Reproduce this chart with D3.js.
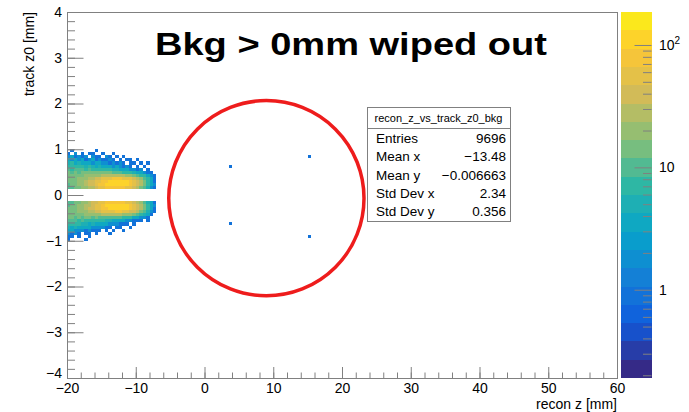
<!DOCTYPE html>
<html>
<head>
<meta charset="utf-8">
<script src="https://cdn.jsdelivr.net/npm/d3@7"></script>
<style>
  body { margin: 0; background: #fff; }
  svg { display: block; font-family: "Liberation Sans", Arial, sans-serif; }
</style>
</head>
<body>
<div id="chart"></div>
<script>
// ---- histogram binning (TH2 recon_z_vs_track_z0_bkg)
var xStart = -20, xBin = 0.5, yBin = 1 / 15;
var upperTopBin = 14;   // y-bin index of the first row of upperRows (rows go downward)
var lowerTopBin = -3;   // y-bin index of the first row of lowerRows

// counts per bin, columns start at x = -20 in 0.5 mm steps
var upperRows = [
  [0,1,0,0,0,0,0,0,1,0,0,0,0,0,0,0,0,0,0,0,0,0,0,0,0,0],
  [1,0,2,0,1,0,1,1,0,0,1,0,0,1,0,0,0,0,0,0,0,0,0,0,0,0],
  [2,3,1,2,1,2,0,2,1,1,0,2,1,0,1,0,1,0,0,0,0,0,0,0,0,0],
  [4,2,3,2,3,1,2,3,1,2,1,1,2,1,0,1,0,1,1,0,1,0,0,0,0,0],
  [5,6,4,5,3,4,4,2,3,3,2,2,1,2,1,2,1,0,1,1,0,1,0,1,0,0],
  [7,8,6,7,6,5,6,5,4,5,3,4,3,2,3,2,1,2,1,0,1,0,1,0,0,0],
  [10,8,9,10,9,8,9,8,8,7,7,6,6,5,5,4,4,3,2,2,1,2,0,1,0,0],
  [12,11,13,11,12,12,13,13,12,14,13,12,12,11,10,10,8,8,6,5,4,3,2,1,1,0],
  [14,12,15,14,16,17,18,20,21,23,25,27,27,28,27,26,24,22,19,15,11,8,6,4,2,1],
  [13,15,14,18,20,23,27,31,36,42,49,56,63,68,70,69,65,58,48,38,27,18,11,6,3,1],
  [12,14,16,19,23,28,34,42,53,65,79,93,106,116,121,119,111,97,79,59,41,26,15,8,4,1],
  [11,12,15,17,22,27,34,43,54,67,81,96,110,120,125,122,113,98,79,59,40,25,14,7,3,2],
  [9,10,12,15,18,22,27,33,41,50,59,68,75,80,82,78,72,62,50,38,26,16,9,5,2,1]
];
var lowerRows = [
  [10,9,12,14,17,23,26,34,40,51,58,69,74,81,80,79,71,63,49,39,25,17,9,5,3,1],
  [11,13,14,18,21,28,33,44,53,66,80,97,109,119,124,121,112,99,78,60,39,26,13,8,3,2],
  [12,13,16,18,22,27,35,41,52,64,78,92,104,114,119,117,109,95,77,57,40,24,14,7,3,1],
  [14,14,15,17,20,22,27,30,36,40,47,54,61,66,68,67,63,56,46,36,25,16,10,5,2,1],
  [13,12,14,15,15,17,18,19,21,22,24,25,26,25,25,24,22,20,17,14,10,7,5,3,1,0],
  [12,12,11,12,11,12,12,11,12,11,11,11,10,10,9,9,8,7,6,4,3,2,2,1,0,0],
  [9,10,9,8,9,8,8,7,7,6,6,5,5,4,4,3,3,2,2,1,1,1,0,1,0,0],
  [7,6,7,6,5,5,4,5,4,4,3,3,2,2,2,1,1,1,0,1,0,0,0,0,0,0],
  [5,4,5,3,4,3,3,2,2,2,2,1,1,0,1,1,0,0,1,0,0,0,0,0,0,0],
  [3,3,2,2,2,1,2,1,1,1,0,1,0,1,0,0,1,0,0,0,0,0,0,0,0,0],
  [2,1,2,1,0,1,1,0,1,0,0,0,1,0,0,0,0,0,0,0,0,0,0,0,0,0],
  [1,1,0,1,0,0,1,0,0,0,0,0,0,0,0,0,0,0,0,0,0,0,0,0,0,0],
  [1,0,0,0,0,1,0,0,0,0,0,0,0,0,0,0,0,0,0,0,0,0,0,0,0,0]
];
// the four lonely bins (bin centres)
var strayX = [3.75, 15.25, 3.75, 15.25];
var strayY = [0.633, 0.833, -0.633, -0.9];
var strayN = [1, 1, 1, 1];

var xMajor = [-20, -10, 0, 10, 20, 30, 40, 50, 60];
var yMajor = [-4, -3, -2, -1, 0, 1, 2, 3, 4];
var zMajor = [1, 10, 100];
var zMajorBase = ["1", "10", "10"];
var zMajorExp = ["", "", "2"];
var zMin = 0.19, zMax = 186;

var statNames = ["Entries", "Mean x", "Mean y", "Std Dev x", "Std Dev y"];
var statValues = ["9696", "\u221213.48", "\u22120.006663", "2.34", "0.356"];
var histName = "recon_z_vs_track_z0_bkg";
var titleText = "Bkg > 0mm wiped out";
var circleCenter = [9.0, -0.07], circleRadius = 14.2;   // in mm (x units)

// kBird palette
var birdStops = [0, 0.125, 0.25, 0.375, 0.5, 0.625, 0.75, 0.875, 1];
var birdR = [0.2082, 0.0592, 0.0780, 0.0232, 0.1802, 0.5301, 0.8186, 0.9956, 0.9764];
var birdG = [0.1664, 0.3599, 0.5041, 0.6419, 0.7178, 0.7492, 0.7328, 0.7862, 0.9832];
var birdB = [0.5293, 0.8684, 0.8385, 0.7914, 0.6425, 0.4662, 0.3499, 0.1968, 0.0539];

var width = 689, height = 412;
var frame = { left: 67, right: 617, top: 12, bottom: 378 };
var pal = { left: 620.5, right: 651.5 };
var nLevels = 20;
var lineCol = "#808080";

var svg = d3.select("#chart").append("svg")
    .attr("width", width)
    .attr("height", height);

var x = d3.scaleLinear().domain([-20, 60]).range([frame.left, frame.right]);
var y = d3.scaleLinear().domain([-4, 4]).range([frame.bottom, frame.top]);
var z = d3.scaleLog().domain([zMin, zMax]).range([frame.bottom, frame.top]);
var lz = d3.scaleLinear().domain([Math.log10(zMin), Math.log10(zMax)]).range([0, nLevels]);

var bird = d3.scaleLinear().domain(birdStops)
    .range(birdStops.map(function(s, i) {
      return d3.rgb(birdR[i] * 255, birdG[i] * 255, birdB[i] * 255).toString();
    }));
function levelColor(i) { return bird(Math.floor(0.01 + i * 255 / nLevels) / 254); }
function levelOf(n) {
  return Math.max(0, Math.min(nLevels - 1, Math.floor(lz(Math.log10(n)))));
}

// ---- collect bins
var cells = [];
function addRows(rows, topBin) {
  rows.forEach(function(row, r) {
    row.forEach(function(n, c) {
      if (n > 0) cells.push({ x0: xStart + c * xBin, y0: (topBin - r) * yBin, n: n });
    });
  });
}
addRows(upperRows, upperTopBin);
addRows(lowerRows, lowerTopBin);
strayX.forEach(function(sx, i) {
  cells.push({ x0: sx - xBin / 2, y0: strayY[i] - yBin / 2, n: strayN[i] });
});

svg.append("g").attr("shape-rendering", "crispEdges")
  .selectAll("rect").data(cells).enter().append("rect")
    .attr("x", function(d) { return x(d.x0); })
    .attr("y", function(d) { return y(d.y0 + yBin); })
    .attr("width", function(d) { return x(d.x0 + xBin) - x(d.x0); })
    .attr("height", function(d) { return y(d.y0) - y(d.y0 + yBin); })
    .attr("fill", function(d) { return levelColor(levelOf(d.n)); });

// ---- axes (ROOT style: ticks inside the frame)
function styleAxis(g) {
  g.select(".domain").remove();
  g.selectAll("line").attr("stroke", lineCol);
  g.selectAll("text").attr("fill", "#000")
    .style("font-family", "'Liberation Sans', Arial, sans-serif").style("font-size", "14px");
}
svg.append("g").attr("transform", "translate(0," + frame.bottom + ")")
  .call(d3.axisBottom(x).tickValues(d3.range(-20, 61, 2)).tickSize(-5.5).tickFormat(""))
  .call(styleAxis);
svg.append("g").attr("transform", "translate(0," + frame.bottom + ")")
  .call(d3.axisBottom(x).tickValues(xMajor).tickSize(-11).tickPadding(5))
  .call(styleAxis);
svg.append("g").attr("transform", "translate(" + frame.left + ",0)")
  .call(d3.axisLeft(y).tickValues(d3.range(-40, 41, 2).map(function(v) { return v / 10; }))
    .tickSize(-8).tickFormat(""))
  .call(styleAxis);
var gy = svg.append("g").attr("transform", "translate(" + frame.left + ",0)")
  .call(d3.axisLeft(y).tickValues(yMajor).tickSize(-16.5).tickPadding(5))
  .call(styleAxis);
// ROOT lifts the lowest label a little off the corner
gy.selectAll(".tick text").filter(function(d) { return d === -4; }).attr("dy", "-0.05em");

svg.append("rect")
    .attr("x", frame.left).attr("y", frame.top)
    .attr("width", frame.right - frame.left).attr("height", frame.bottom - frame.top)
    .attr("fill", "none").attr("stroke", lineCol).attr("shape-rendering", "crispEdges");

svg.append("text")
    .attr("x", frame.right).attr("y", 409)
    .attr("text-anchor", "end").style("font-size", "14px")
    .text("recon z [mm]");
svg.append("text")
    .attr("transform", "translate(34," + frame.top + ") rotate(-90)")
    .attr("text-anchor", "end").style("font-size", "14px")
    .text("track z0 [mm]");

// ---- colour palette axis
var bands = d3.range(nLevels);
svg.append("g").attr("shape-rendering", "crispEdges")
  .selectAll("rect").data(bands).enter().append("rect")
    .attr("x", pal.left)
    .attr("y", function(i) { return z(Math.pow(10, lz.invert(i + 1))); })
    .attr("width", pal.right - pal.left)
    .attr("height", function(i) { return z(Math.pow(10, lz.invert(i))) - z(Math.pow(10, lz.invert(i + 1))); })
    .attr("fill", function(i) { return levelColor(i); });

var zMinor = [];
[0.1, 1, 10, 100].forEach(function(dec) {
  for (var k = 2; k <= 9; k++) {
    var v = dec * k;
    if (v > zMin && v < zMax) zMinor.push(v);
  }
});
svg.append("g").attr("transform", "translate(" + pal.right + ",0)")
  .call(d3.axisRight(z).tickValues(zMinor).tickSize(-8.5).tickFormat(""))
  .call(styleAxis);
svg.append("g").attr("transform", "translate(" + pal.right + ",0)")
  .call(d3.axisRight(z).tickValues(zMajor).tickSize(-17).tickFormat(""))
  .call(styleAxis);

var zl = svg.append("g").selectAll("text").data(zMajor).enter().append("text")
    .attr("x", 659)
    .attr("y", function(d) { return z(d) + 5; })
    .style("font-size", "14px");
zl.append("tspan").text(function(d, i) { return zMajorBase[i]; });
zl.append("tspan").attr("dy", -6).style("font-size", "10px")
    .text(function(d, i) { return zMajorExp[i]; });

// ---- stats box
var box = { x: 367, y: 107, w: 143, h: 114 };
svg.append("rect")
    .attr("x", box.x).attr("y", box.y).attr("width", box.w).attr("height", box.h)
    .attr("fill", "#fff").attr("stroke", lineCol).attr("shape-rendering", "crispEdges");
svg.append("line")
    .attr("x1", box.x).attr("x2", box.x + box.w).attr("y1", 128.5).attr("y2", 128.5)
    .attr("stroke", lineCol);
svg.append("text")
    .attr("x", box.x + box.w / 2).attr("y", 122)
    .attr("text-anchor", "middle").style("font-size", "11px")
    .text(histName);
statNames.forEach(function(name, i) {
  var yy = 143 + i * 18.3;
  svg.append("text").attr("x", 376).attr("y", yy).style("font-size", "13.5px").text(name);
  svg.append("text").attr("x", 506).attr("y", yy).attr("text-anchor", "end")
    .style("font-size", "13.5px").text(statValues[i]);
});

// ---- annotations
var cx = x(circleCenter[0]), cy = y(circleCenter[1]);
svg.append("circle")
    .attr("cx", cx).attr("cy", cy)
    .attr("r", x(circleCenter[0] + circleRadius) - cx)
    .attr("fill", "none").attr("stroke", "#ee1c1c").attr("stroke-width", 3.5);

svg.append("text")
    .attr("x", 155).attr("y", 55)
    .attr("textLength", 392).attr("lengthAdjust", "spacingAndGlyphs")
    .style("font-size", "31px").style("font-weight", "bold")
    .text(titleText);
</script>
</body>
</html>
